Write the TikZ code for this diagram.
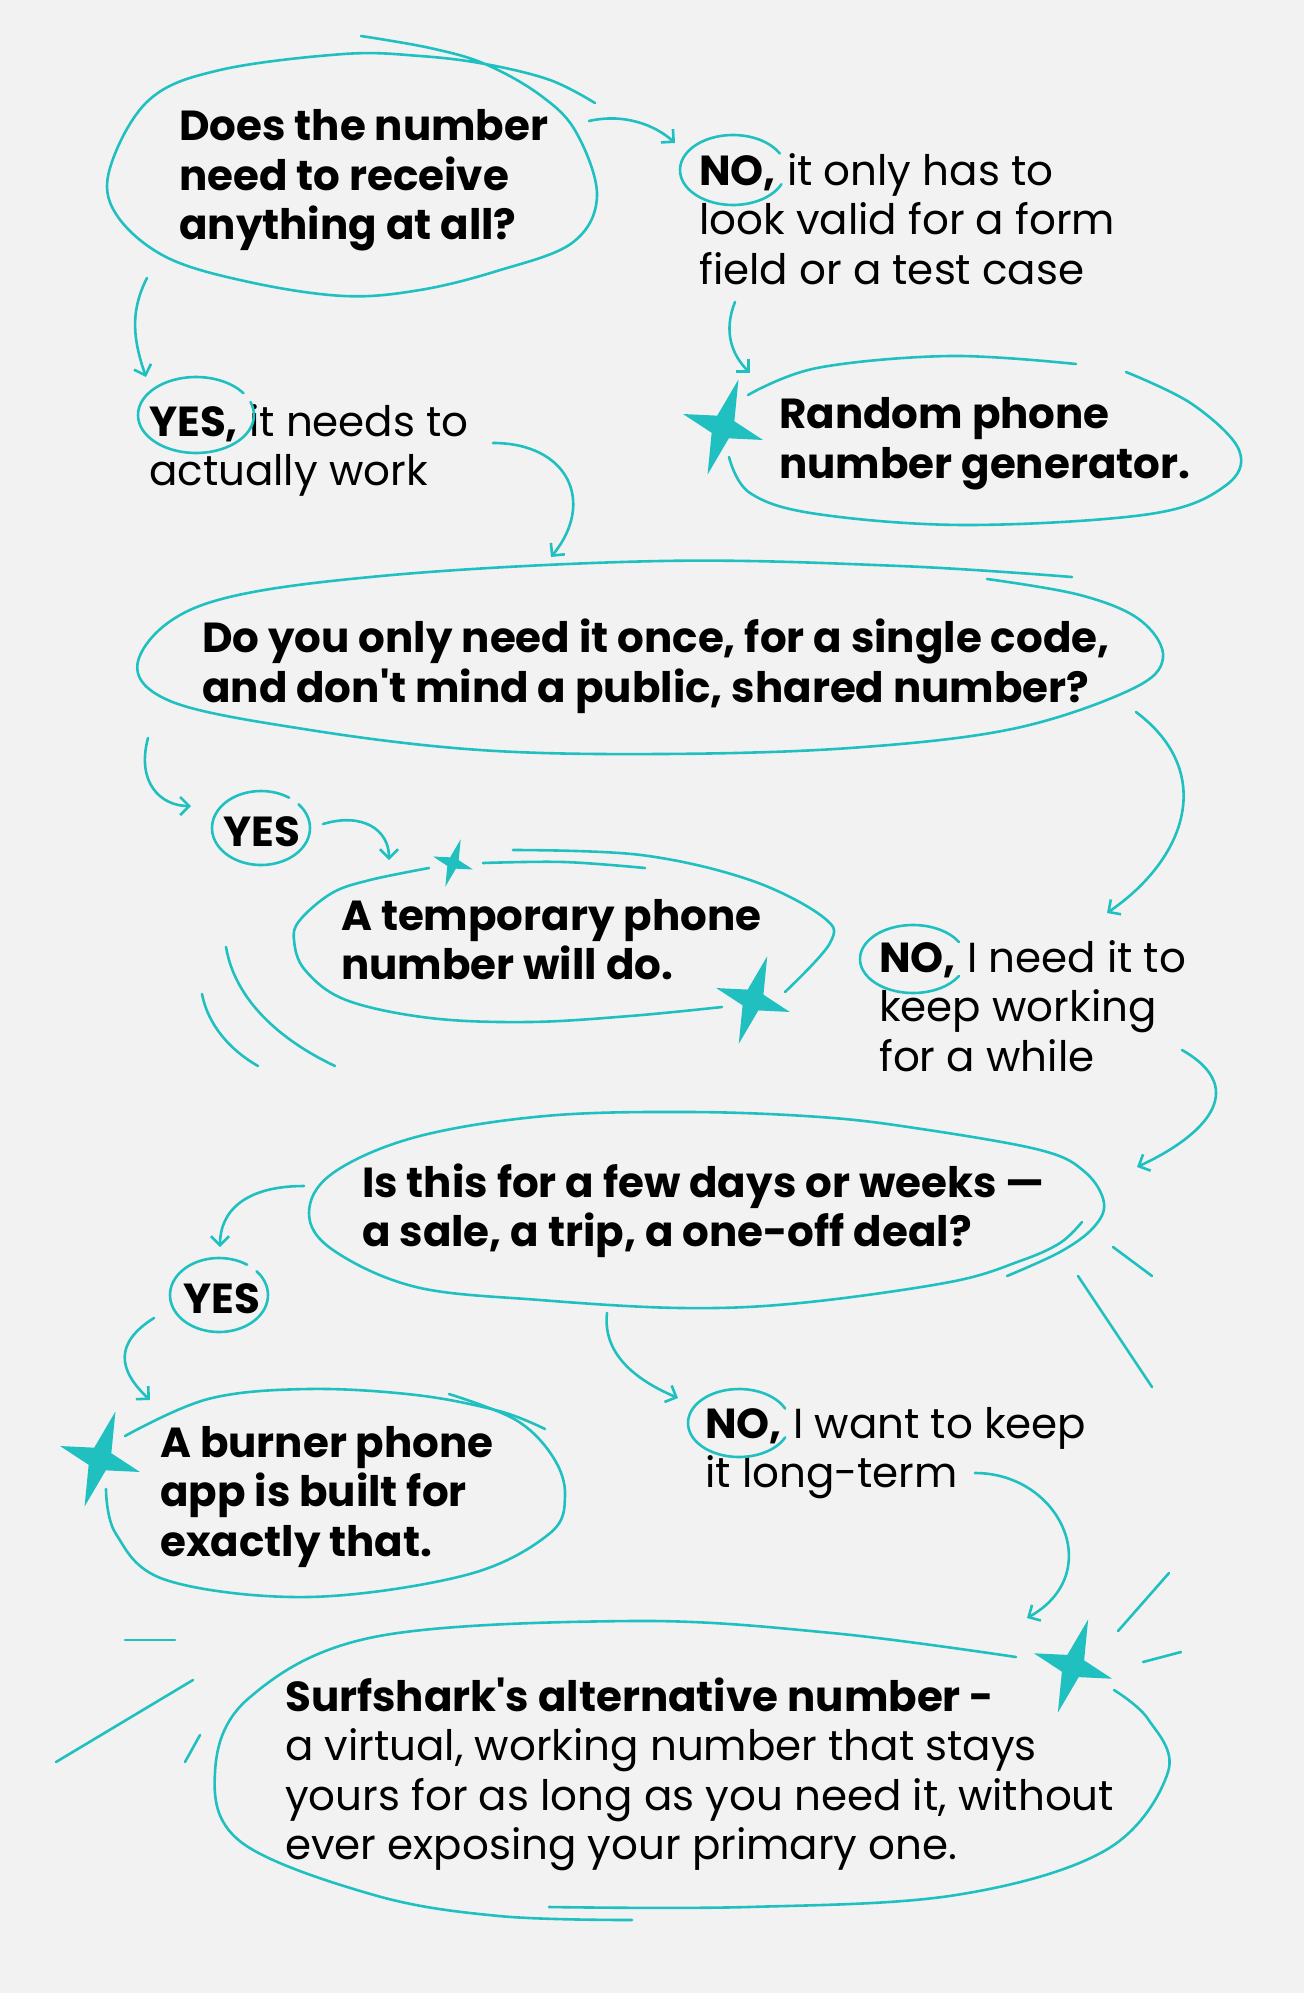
\documentclass[tikz,border=0pt]{standalone}
\usepackage{fontspec}
\setmainfont{Poppins}
\usepackage{tikz}
\usetikzlibrary{arrows.meta}
\definecolor{surfteal}{RGB}{32,192,192}
\definecolor{paper}{RGB}{242,242,242}
\newcommand{\sparkle}[4]{
    \fill[surfteal, shift={(#1,#2)}, rotate=#4, scale=#3] (0,-50) -- (9,-9) -- (42,0) -- (9,9) -- (0,50) -- (-9,9) -- (-42,0) -- (-9,-9) -- cycle
}
\newcommand{\ring}[6]{
    \draw[loopline] plot[smooth, domain=#5:#6, samples=40] ({#1+#3*cos(\x)},{#2+#4*sin(\x)})
}

\begin{document}
\begin{tikzpicture}[x=1pt, y=-1pt,
    loopline/.style={surfteal, line width=2.6pt, line cap=round},
    flow/.style={loopline, -{Straight Barb[length=9pt, width=18pt]}},
    txt/.style={anchor=north west, inner sep=0pt, align=left, font=\fontsize{42}{49.5}\selectfont},
    head/.style={txt, font=\fontsize{42}{49.5}\selectfont\bfseries}]
    \fill[paper] (0,0) rectangle (1304,1993);
    \useasboundingbox (0,0) rectangle (1304,1993);

    \node[head] (q1) at (179,105.8) {\strut Does the number\\ need to receive\\ anything at all?};
    \node[txt] (no1) at (699,150.4) {\strut\textbf{NO,} it only has to\\ look valid for a form\\ field or a test case};
    \node[txt] (yes1) at (149,401.4) {\strut\textbf{YES,} it needs to\\ actually work};
    \node[head] (random) at (779,394) {\strut Random phone\\ number generator.};
    \node[head] (q2) at (202,617.9) {\strut Do you only need it once, for a single code,\\ and don\textquotesingle t mind a public, shared number?};
    \node[head] (yes2) at (223,811.4) {\strut YES};
    \node[head] (temp) at (341,895.4) {\strut A temporary phone\\ number will do.};
    \node[txt] (no2) at (879,937.4) {\strut\textbf{NO,} I need it to\\ keep working\\ for a while};
    \node[head] (q3) at (362,1162.4) {\strut Is this for a few days or weeks —\\ a sale, a trip, a one-off deal?};
    \node[head] (yes3) at (183,1278.4) {\strut YES};
    \node[head] (burner) at (160,1422.4) {\strut A burner phone\\ app is built for\\ exactly that.};
    \node[txt] (no3) at (705,1403.4) {\strut\textbf{NO,} I want to keep\\ it long-term};
    \node[txt] (final) at (285,1676.4) {\strut\textbf{Surfshark\textquotesingle s alternative number -}\\ a virtual, working number that stays\\ yours for as long as you need it, without\\ ever exposing your primary one.};

    \draw[loopline] plot[smooth, tension=0.6] coordinates {(361,36) (430,48) (485,64) (540,95) (576,132) (597,196) (572,243) (497,271) (420,290) (344,296) (249,282) (166,257) (116,214) (110,168) (149,100) (220,70) (344,54) (420,56) (485,64) (550,80) (595,103)};
    \draw[loopline] plot[smooth, tension=0.6] coordinates {(748,395) (817,368) (950,356) (1076,364)};
    \draw[loopline] plot[smooth, tension=0.6] coordinates {(1126,372) (1192,404) (1239,450) (1225,486) (1150,514) (967,525) (817,514) (750,493) (729,457)};
    \draw[loopline] plot[smooth, tension=0.6] coordinates {(1072,577) (900,566) (661,561) (381,576) (205,604) (139,658) (170,701) (310,730) (480,750) (661,754) (850,748) (1012,729) (1130,690) (1163,658) (1140,620) (1080,595) (987,579)};
    \draw[loopline] plot[smooth, tension=0.6] coordinates {(483,863) (564,862) (645,868)};
    \draw[loopline] plot[smooth, tension=0.6] coordinates {(513,850) (641,855) (750,880) (823,917) (830,943) (785,992)};
    \draw[loopline] plot[smooth, tension=0.6] coordinates {(429,868) (370,880) (332,893) (300,920) (294,940) (305,970) (346,1000) (430,1018) (529,1022) (630,1016) (722,1007)};
    \draw[loopline] plot[smooth, tension=0.6] coordinates {(1007,1276) (1060,1252) (1093,1228) (1104,1203) (1085,1172) (1040,1150) (915,1128) (820,1117) (690,1112) (545,1116) (416,1137) (333,1173) (309,1213) (333,1250) (416,1287) (540,1300) (682,1308) (800,1303) (950,1282) (1020,1261) (1060,1243) (1082,1222)};
    \draw[loopline] plot[smooth, tension=0.6] coordinates {(125,1436) (208,1399) (308,1389) (416,1395) (499,1411) (545,1429)};
    \draw[loopline] plot[smooth, tension=0.6] coordinates {(449,1394) (516,1420) (553,1457) (565,1496) (549,1534) (466,1575) (308,1597) (166,1580) (116,1534) (106,1489)};
    \draw[loopline] plot[smooth, tension=0.6] coordinates {(1016,1657) (832,1633) (632,1621) (374,1637) (249,1698) (215,1772) (241,1842) (374,1895) (499,1916) (632,1920)};
    \draw[loopline] plot[smooth, tension=0.6] coordinates {(549,1907) (748,1907) (956,1895) (1106,1850) (1168,1772) (1148,1719) (1114,1690)};

    \ring{733}{170}{53}{35}{24}{332};
    \ring{196}{415}{58}{38}{-20}{325};
    \ring{261}{828}{49}{37}{-40}{305};
    \ring{913}{959}{53}{34}{30}{330};
    \ring{219}{1295}{49}{37}{-40}{305};
    \ring{739}{1423}{51}{34}{25}{335};

    \sparkle{723}{427}{1}{-18};
    \sparkle{453}{863}{0.5}{-18};
    \sparkle{753}{1000}{0.92}{-18};
    \sparkle{100}{1459}{1}{-18};
    \sparkle{1073}{1666}{0.98}{-18};

    \coordinate (q1-no-a) at (589,121);
    \coordinate (q1-no-b) at (675,143);
    \coordinate (q1-yes-a) at (147,278);
    \coordinate (q1-yes-b) at (146,377);
    \coordinate (yes1-q2-a) at (493,443);
    \coordinate (yes1-q2-b) at (551,557);
    \coordinate (no1-rnd-a) at (735,302);
    \coordinate (no1-rnd-b) at (750,373);
    \coordinate (q2-yes-a) at (148,738);
    \coordinate (q2-yes-b) at (191,806);
    \coordinate (yes2-tmp-a) at (323,824);
    \coordinate (yes2-tmp-b) at (389,860);
    \coordinate (q2-no-a) at (1136,712);
    \coordinate (q2-no-b) at (1107,913);
    \coordinate (no2-q3-a) at (1182,1050);
    \coordinate (no2-q3-b) at (1137,1167);
    \coordinate (q3-yes-a) at (304,1186);
    \coordinate (q3-yes-b) at (220,1247);
    \coordinate (yes3-brn-a) at (154,1318);
    \coordinate (yes3-brn-b) at (150,1400);
    \coordinate (q3-no-a) at (607,1313);
    \coordinate (q3-no-b) at (678,1398);
    \coordinate (no3-fin-a) at (975,1473);
    \coordinate (no3-fin-b) at (1027,1618);

    \draw[flow] (q1-no-a) .. controls +(35,-8) and +(-20,-18) .. (q1-no-b);
    \draw[flow] (q1-yes-a) .. controls +(-18,35) and +(-12,-35) .. (q1-yes-b);
    \draw[flow] (yes1-q2-a) .. controls +(75,0) and +(45,-55) .. (yes1-q2-b);
    \draw[flow] (no1-rnd-a) .. controls +(-12,30) and +(-18,-18) .. (no1-rnd-b);
    \draw[flow] (q2-yes-a) .. controls +(-12,45) and +(-30,0) .. (q2-yes-b);
    \draw[flow] (yes2-tmp-a) .. controls +(40,-12) and +(0,-30) .. (yes2-tmp-b);
    \draw[flow] (q2-no-a) .. controls +(80,60) and +(80,-55) .. (q2-no-b);
    \draw[flow] (no2-q3-a) .. controls +(70,40) and +(65,-30) .. (no2-q3-b);
    \draw[flow] (q3-yes-a) .. controls +(-60,0) and +(0,-35) .. (q3-yes-b);
    \draw[flow] (yes3-brn-a) .. controls +(-40,25) and +(-32,-30) .. (yes3-brn-b);
    \draw[flow] (q3-no-a) .. controls +(-5,45) and +(-35,-15) .. (q3-no-b);
    \draw[flow] (no3-fin-a) .. controls +(85,0) and +(80,-45) .. (no3-fin-b);

    \draw[loopline] (226,947) .. controls (235,1000) and (280,1040) .. (335,1066);
    \draw[loopline] (202,994) .. controls (208,1025) and (230,1050) .. (258,1066);
    \draw[loopline] (1113,1247) -- (1152,1276);
    \draw[loopline] (1078,1276) -- (1152,1387);
    \draw[loopline] (125,1640) -- (175,1640);
    \draw[loopline] (193,1680) -- (56,1762);
    \draw[loopline] (200,1735) -- (185,1762);
    \draw[loopline] (1169,1573) -- (1118,1631);
    \draw[loopline] (1181,1652) -- (1143,1662);
\end{tikzpicture}
\end{document}
